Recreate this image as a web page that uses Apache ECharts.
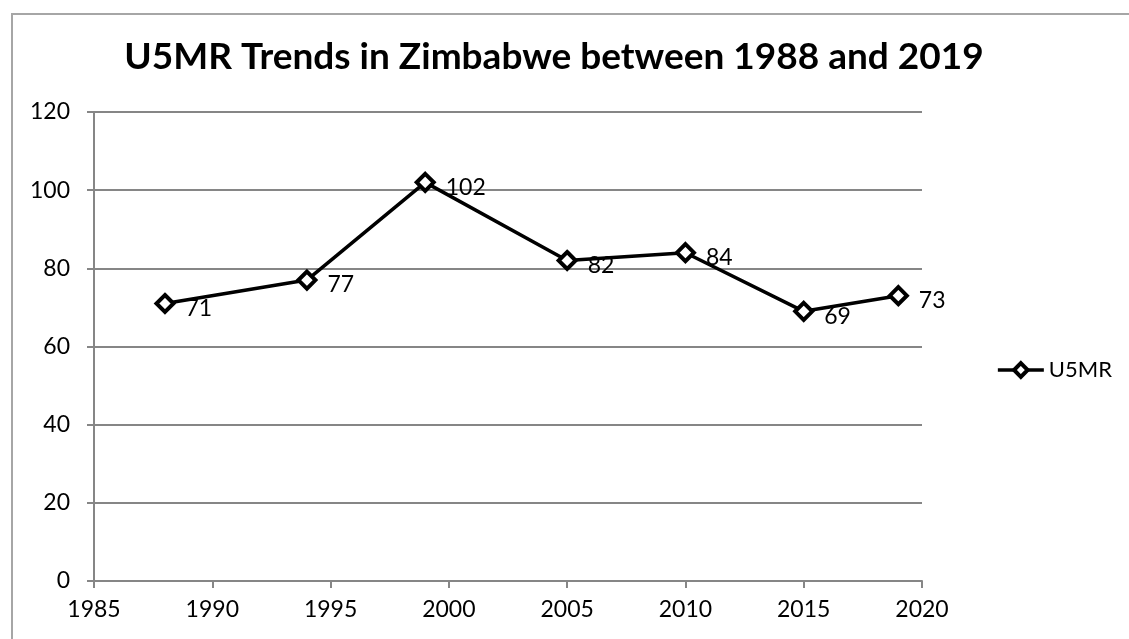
<!DOCTYPE html>
<html>
<head>
<meta charset="utf-8">
<script src="https://cdn.jsdelivr.net/npm/echarts@6/dist/echarts.min.js"></script>
<style>
  html, body { margin: 0; padding: 0; background: #fff; }
  .frame {
    position: absolute; left: 11px; top: 13px;
    width: 1118px; height: 626px;
    border-left: 2px solid #a6a6a6; border-top: 2px solid #a6a6a6;
  }
  #chart { position: absolute; left: 0; top: 0; width: 1129px; height: 639px; }
</style>
</head>
<body>
<div class="frame"></div>
<div id="chart"></div>
<script>
// 数据
const years = [1988, 1994, 1999, 2005, 2010, 2015, 2019];
const u5mr = [71, 77, 102, 82, 84, 69, 73];
const seriesName = 'U5MR';
const titleText = 'U5MR Trends in Zimbabwe between 1988 and 2019';

const myChart = echarts.init(document.getElementById('chart'));
const font = 'Lato, "Open Sans", sans-serif';

const option = {
  animation: false,
  title: {
    text: titleText,
    left: 549,
    textAlign: 'center',
    top: 34,
    textStyle: { fontFamily: font, fontSize: 37, fontWeight: 'bold', color: '#000' }
  },
  legend: {
    right: 12,
    top: 354,
    itemWidth: 46,
    itemHeight: 17,
    itemGap: 8,
    textStyle: { fontFamily: font, fontSize: 22, color: '#000' },
    data: [
      {
        name: seriesName,
        itemStyle: { color: '#fff', borderColor: '#000', borderWidth: 4 },
        lineStyle: { color: '#000', width: 3.5 }
      }
    ]
  },
  grid: { left: 94, right: 207, top: 112, bottom: 58 },
  xAxis: {
    type: 'value',
    min: 1985,
    max: 2020,
    interval: 5,
    axisLine: { show: true, lineStyle: { color: '#868686', width: 2 } },
    axisTick: { show: true, length: 7, lineStyle: { color: '#868686', width: 2 } },
    splitLine: { show: false },
    axisLabel: {
      color: '#000', fontFamily: font, fontSize: 23, margin: 17,
      formatter: (v) => String(v)
    }
  },
  yAxis: {
    type: 'value',
    min: 0,
    max: 120,
    interval: 20,
    axisLine: { show: true, lineStyle: { color: '#868686', width: 2 } },
    axisTick: { show: true, length: 7, lineStyle: { color: '#868686', width: 2 } },
    splitLine: { show: true, lineStyle: { color: '#868686', width: 2 } },
    axisLabel: { color: '#000', fontFamily: font, fontSize: 23, margin: 24 }
  },
  series: [
    {
      name: seriesName,
      type: 'line',
      data: years.map((y, i) => [y, u5mr[i]]),
      symbol: 'diamond',
      symbolSize: 17,
      lineStyle: { color: '#000', width: 3.5 },
      itemStyle: { color: '#fff', borderColor: '#000', borderWidth: 4 },
      label: {
        show: true,
        position: 'right',
        distance: 10,
        offset: [0, 5],
        color: '#000',
        fontFamily: font,
        fontSize: 23,
        formatter: (p) => p.value[1]
      }
    }
  ]
};
option && myChart.setOption(option);
window.addEventListener('resize', myChart.resize);
</script>
</body>
</html>
